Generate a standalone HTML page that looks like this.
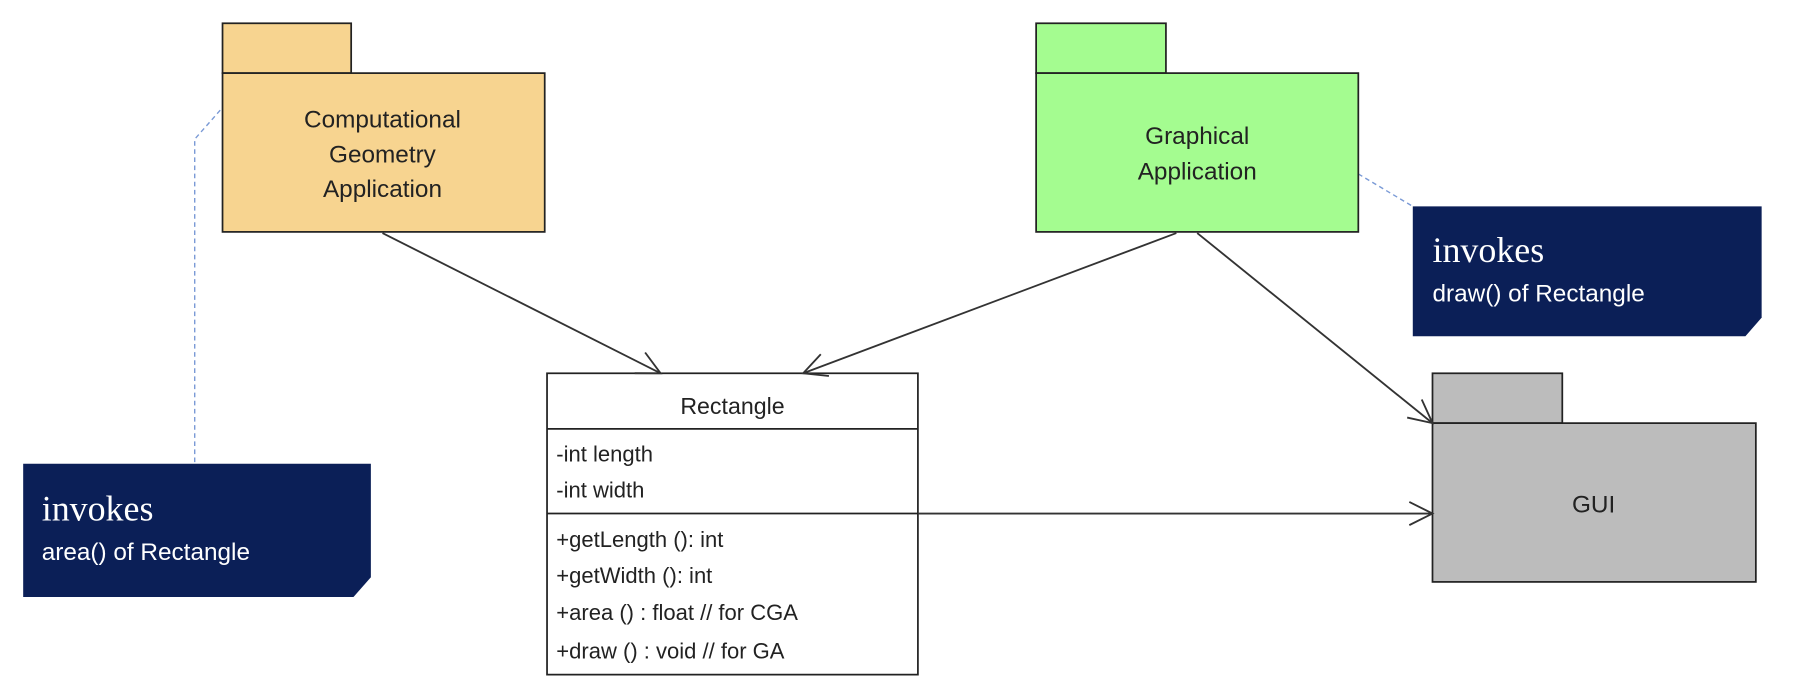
<!DOCTYPE html>
<html><head><meta charset="utf-8"><style>
html,body{margin:0;padding:0;background:#fff;}
svg{display:block;}
text{font-family:"Liberation Sans",sans-serif;}
</style></head><body>
<svg width="1808" height="684" viewBox="0 0 1560 590" xmlns="http://www.w3.org/2000/svg">
<defs>
<marker id="a" markerWidth="24" markerHeight="24" refX="22" refY="12" orient="auto" markerUnits="userSpaceOnUse">
<path d="M2,2 L22,12 L2,22" fill="none" stroke="#333" stroke-width="1.6"/>
</marker>
</defs>
<!-- dashed note links -->
<polyline points="190,95 168,120 168,400" fill="none" stroke="#7a9ad6" stroke-width="1.2" stroke-dasharray="4,3"/>
<line x1="1172" y1="150" x2="1219" y2="178" stroke="#7a9ad6" stroke-width="1.2" stroke-dasharray="4,3"/>

<!-- CGA package -->
<rect x="192" y="20" width="111" height="43" fill="#f7d490" stroke="#222" stroke-width="1.5"/>
<rect x="192" y="63" width="278" height="137" fill="#f7d490" stroke="#222" stroke-width="1.5"/>
<text x="330" y="110" font-size="21" text-anchor="middle" fill="#222">Computational</text>
<text x="330" y="140" font-size="21" text-anchor="middle" fill="#222">Geometry</text>
<text x="330" y="170" font-size="21" text-anchor="middle" fill="#222">Application</text>

<!-- GA package -->
<rect x="894" y="20" width="112" height="43" fill="#a4fc90" stroke="#222" stroke-width="1.5"/>
<rect x="894" y="63" width="278" height="137" fill="#a4fc90" stroke="#222" stroke-width="1.5"/>
<text x="1033" y="124" font-size="21" text-anchor="middle" fill="#222">Graphical</text>
<text x="1033" y="155" font-size="21" text-anchor="middle" fill="#222">Application</text>

<!-- notes -->
<path d="M1219,178 H1520 V274 L1506,290 H1219 Z" fill="#0b1f57"/>
<text x="1236" y="226" font-size="31" fill="#fff" style="font-family:'Liberation Serif',serif">invokes</text>
<text x="1236" y="260" font-size="21" fill="#fff">draw() of Rectangle</text>
<path d="M20,400 H320 V498 L305,515 H20 Z" fill="#0b1f57"/>
<text x="36" y="449" font-size="31" fill="#fff" style="font-family:'Liberation Serif',serif">invokes</text>
<text x="36" y="483" font-size="21" fill="#fff">area() of Rectangle</text>

<!-- Rectangle class -->
<rect x="472" y="322" width="320" height="260" fill="#fff" stroke="#222" stroke-width="1.5"/>
<line x1="472" y1="370" x2="792" y2="370" stroke="#222" stroke-width="1.5"/>
<line x1="472" y1="443" x2="792" y2="443" stroke="#222" stroke-width="1.5"/>
<text x="632" y="357" font-size="20" text-anchor="middle" fill="#222">Rectangle</text>
<g font-size="19" fill="#222">
<text x="480" y="398">-int length</text>
<text x="480" y="429">-int width</text>
<text x="480" y="472">+getLength (): int</text>
<text x="480" y="503">+getWidth (): int</text>
<text x="480" y="535">+area () : float // for CGA</text>
<text x="480" y="568">+draw () : void // for GA</text>
</g>

<!-- GUI package -->
<rect x="1236" y="322" width="112" height="43" fill="#bcbcbc" stroke="#222" stroke-width="1.5"/>
<rect x="1236" y="365" width="279" height="137" fill="#bcbcbc" stroke="#222" stroke-width="1.5"/>
<text x="1375" y="442" font-size="21" text-anchor="middle" fill="#222">GUI</text>

<!-- arrows -->
<g stroke="#333" stroke-width="1.6" fill="none">
<line x1="330" y1="201" x2="570" y2="322" marker-end="url(#a)"/>
<line x1="1015" y1="201" x2="693" y2="322" marker-end="url(#a)"/>
<line x1="1033" y1="201" x2="1236" y2="365" marker-end="url(#a)"/>
<line x1="792" y1="443" x2="1236" y2="443" marker-end="url(#a)"/>
</g>
</svg>
</body></html>
